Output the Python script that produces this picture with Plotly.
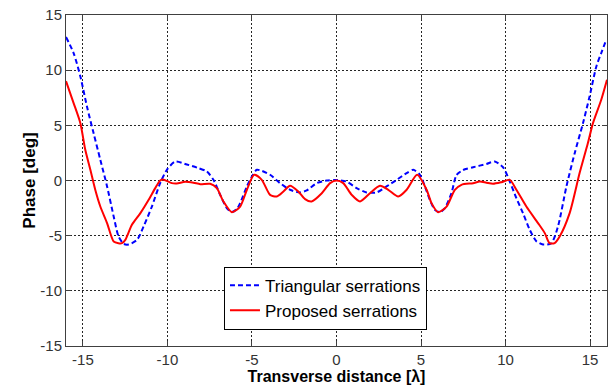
import plotly.graph_objects as go

# Triangular serrations (blue dashed)
tri_x = [-16.0, -15.55, -15.15, -14.76, -14.37, -13.97, -13.57, -13.18, -12.89, -12.59,
         -12.3, -11.8, -11.41, -10.92, -10.43, -10.03, -9.54, -8.85, -8.16, -7.67,
         -7.28, -6.88, -6.49, -6.19, -5.9, -5.7, -5.3, -5.0, -4.71, -3.93,
         -3.34, -2.75, -2.16, -1.76, -1.17, -0.58, 0.0, 0.6, 1.19, 1.78,
         2.37, 2.96, 3.56, 4.15, 4.54, 4.93, 5.23, 5.52, 5.82, 6.11,
         6.41, 6.8, 7.1, 7.49, 8.08, 8.87, 9.36, 9.85, 10.25, 10.64,
         11.03, 11.43, 11.82, 12.21, 12.71, 13.1, 13.6, 14.09, 14.58, 14.97,
         15.37, 15.66, 15.96]
tri_y = [13.0, 11.55, 9.43, 6.7, 4.3, 1.88, -0.54, -3.26, -5.08, -5.74,
         -5.8, -5.38, -4.17, -2.36, -0.24, 0.97, 1.72, 1.45, 1.12, 0.82,
         0.06, -1.3, -2.5, -2.85, -2.6, -2.05, -0.54, 0.36, 0.97, 0.52,
         -0.24, -0.84, -1.08, -0.9, -0.24, 0.0, 0.05, -0.1, -0.69, -1.08,
         -1.08, -0.54, 0.06, 0.67, 0.97, 0.52, -0.54, -1.75, -2.66, -2.87,
         -2.5, -1.15, 0.5, 0.95, 1.2, 1.5, 1.72, 1.2, -0.1, -1.6,
         -2.96, -4.47, -5.5, -5.8, -5.68, -4.17, -0.54, 2.48, 5.2, 7.62,
         10.34, 11.55, 12.76]

# Proposed serrations (red solid)
pro_x = [-16.0, -15.55, -15.15, -14.86, -14.56, -14.27, -13.97, -13.57, -13.18, -12.9,
         -12.69, -12.49, -12.1, -11.6, -11.11, -10.72, -10.43, -10.27, -9.74, -9.45,
         -8.95, -8.46, -8.06, -7.47, -7.08, -6.69, -6.19, -5.7, -5.3, -4.87,
         -4.42, -3.93, -3.53, -3.14, -2.75, -2.26, -1.86, -1.47, -0.87, -0.38,
         0.0, 0.4, 0.9, 1.39, 1.98, 2.57, 3.06, 3.65, 4.15, 4.77,
         5.33, 5.62, 6.01, 6.51, 7.0, 7.39, 8.08, 8.48, 8.87, 9.26,
         9.76, 10.25, 10.64, 11.23, 11.92, 12.32, 12.6, 12.9, 13.2, 13.79,
         14.38, 14.87, 15.17, 15.66, 16.0]
pro_y = [9.0, 7.02, 5.2, 2.78, 0.97, -0.84, -2.36, -3.86, -5.53, -5.68,
         -5.68, -5.38, -4.02, -2.96, -1.75, -0.69, 0.0, 0.1, -0.24, -0.27,
         -0.12, -0.2, -0.33, -0.3, -0.69, -1.9, -2.87, -2.36, -0.84, 0.52,
         0.06, -1.3, -1.45, -1.0, -0.48, -1.0, -1.69, -1.9, -1.15, -0.24,
         0.0, -0.24, -1.3, -1.9, -1.15, -0.48, -0.84, -1.45, -0.84, 0.52,
         -0.84, -2.05, -2.87, -2.36, -0.84, -0.39, -0.24, -0.09, -0.2, -0.3,
         -0.15, 0.06, -0.84, -2.36, -3.86, -4.77, -5.68, -5.68, -5.08, -2.96,
         0.67, 3.39, 5.2, 7.32, 9.13]

tick_vals = [-15, -10, -5, 0, 5, 10, 15]
tick_text = ["-15", "-10", "-5", "0", "5", "10", "15"]

FONT = "Liberation Sans, Arial, sans-serif"

fig = go.Figure()
fig.add_trace(go.Scatter(x=tri_x, y=tri_y, mode="lines", name="Triangular serrations",
                         line=dict(color="#0000FF", width=2, dash="5px,3px",
                                   shape="spline", smoothing=0.7)))
fig.add_trace(go.Scatter(x=pro_x, y=pro_y, mode="lines", name="Proposed serrations",
                         line=dict(color="#FF0000", width=2, shape="spline", smoothing=0.7)))

axis_common = dict(
    showline=True, linecolor="#404040", linewidth=1, mirror="ticks",
    ticks="inside", ticklen=5, tickcolor="#404040",
    showgrid=True, gridcolor="rgba(0,0,0,0.85)", gridwidth=1, griddash="2px,2px",
    zeroline=False, tickfont=dict(family=FONT, size=15, color="#333333"),
    tickvals=tick_vals, ticktext=tick_text,
)

fig.update_layout(
    width=609, height=389,
    margin=dict(l=66, r=2, t=15, b=43),
    paper_bgcolor="white", plot_bgcolor="white",
    showlegend=True,
    legend=dict(x=0.292, y=0.2396, xanchor="left", yanchor="top",
                bgcolor="white", bordercolor="#000000", borderwidth=1,
                font=dict(family=FONT, size=17, color="#000000"),
                tracegroupgap=0),
    xaxis=dict(range=[-16, 16],
               title=dict(text="Transverse distance [λ]", standoff=2,
                          font=dict(family=FONT, size=16, color="#000000", weight="bold")),
               **axis_common),
    yaxis=dict(range=[-15, 15],
               title=dict(text="Phase [deg]", standoff=0,
                          font=dict(family=FONT, size=17, color="#000000", weight="bold")),
               **axis_common),
)

fig.write_html("out.html", config={"displayModeBar": False},
               post_script="document.body.style.margin='0';document.body.style.overflow='hidden';")
